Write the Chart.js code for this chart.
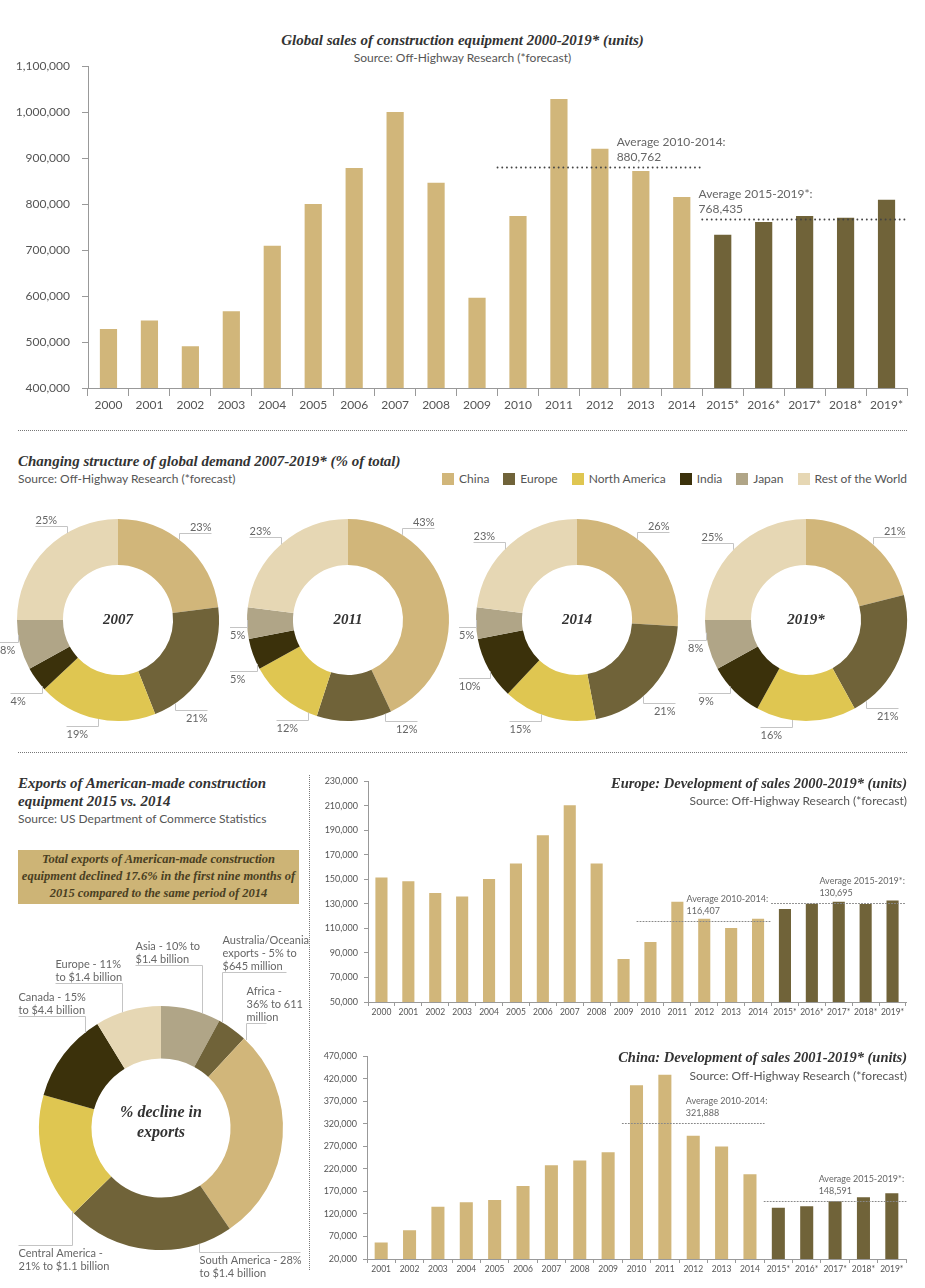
<!DOCTYPE html>
<html lang="en">
<head>
<meta charset="UTF-8">
<title>Construction equipment sales</title>
<script src="https://cdn.jsdelivr.net/npm/chart.js"></script>
<style>
  body { margin:0; width:925px; height:1288px; position:relative; background:#fff; font-family:Lato, sans-serif; color:#555; overflow:hidden; }
  .t { position:absolute; white-space:nowrap; }
  .title { font-family:"Liberation Serif", serif; font-style:italic; font-weight:bold; font-size:15px; line-height:18px; color:#333; }
  .src { font-size:12px; line-height:18px; color:#555; }
  canvas { position:absolute; }
  .hdots { position:absolute; height:0; border-top:1px dotted #777; }
  .vdots { position:absolute; width:0; border-left:1px dotted #777; }
  .legend { position:absolute; right:18px; top:471px; display:flex; gap:14px; font-size:12px; line-height:16px; color:#555; }
  .legend span { display:flex; align-items:center; }
  .legend i { display:inline-block; width:12px; height:12px; margin-right:5px; }
  .box { position:absolute; left:18px; top:850px; width:281px; height:54px; background:#CDB476; box-sizing:border-box; padding-top:1px;
         text-align:center; font-family:"Liberation Serif", serif; font-style:italic; font-weight:bold; font-size:12.5px; line-height:17px; color:#4a3f22; }
</style>
</head>
<body>

<div class="t title" style="left:0;width:925px;text-align:center;top:31px">Global sales of construction equipment 2000-2019* (units)</div>
<div class="t src" style="left:0;width:925px;text-align:center;top:49px">Source: Off-Highway Research (*forecast)</div>
<canvas id="world" width="925" height="420" style="left:0;top:0"></canvas>

<div class="hdots" style="left:18px;width:889px;top:430px"></div>

<div class="t title" style="left:18px;top:452px">Changing structure of global demand 2007-2019* (% of total)</div>
<div class="t src" style="left:18px;top:470px">Source: Off-Highway Research (*forecast)</div>
<div class="legend" id="legend"></div>

<canvas id="d0" width="236" height="250" style="left:0;top:502px"></canvas>
<canvas id="d1" width="236" height="250" style="left:230px;top:502px"></canvas>
<canvas id="d2" width="236" height="250" style="left:459px;top:502px"></canvas>
<canvas id="d3" width="236" height="250" style="left:688px;top:502px"></canvas>

<div class="hdots" style="left:18px;width:889px;top:752px"></div>
<div class="vdots" style="left:309px;top:775px;height:495px"></div>

<div class="t title" style="left:18px;top:774px">Exports of American-made construction<br>equipment 2015 vs. 2014</div>
<div class="t src" style="left:18px;top:810px">Source: US Department of Commerce Statistics</div>
<div class="box">Total exports of American-made construction<br>equipment declined 17.6% in the first nine months of<br>2015 compared to the same period of 2014</div>
<canvas id="exports" width="310" height="350" style="left:0;top:930px"></canvas>

<canvas id="europe" width="615" height="250" style="left:310px;top:770px"></canvas>
<div class="t title" style="right:18px;top:774px;font-size:14.5px">Europe: Development of sales 2000-2019* (units)</div>
<div class="t src" style="right:18px;top:792px">Source: Off-Highway Research (*forecast)</div>

<canvas id="china" width="615" height="235" style="left:310px;top:1045px"></canvas>
<div class="t title" style="right:18px;top:1048px;font-size:14.5px">China: Development of sales 2001-2019* (units)</div>
<div class="t src" style="right:18px;top:1067px">Source: Off-Highway Research (*forecast)</div>

<script>
// global sales, units
const worldYears = ['2000', '2001', '2002', '2003', '2004', '2005', '2006', '2007', '2008', '2009',
                    '2010', '2011', '2012', '2013', '2014', '2015*', '2016*', '2017*', '2018*', '2019*'];
const worldSales = [528000, 547000, 491000, 567000, 709000, 800000, 878000, 1000000, 846000, 596000,
                    774000, 1028000, 920000, 872000, 815000, 733000, 761000, 774000, 770000, 809000];
const worldAverages = [880762, 768435];

// europe sales, units
const europeYears = worldYears;
const europeSales = [151500, 148500, 139000, 136000, 150400, 163000, 186000, 210500, 163000, 85000,
                     99000, 131800, 118000, 110400, 118000, 125800, 130100, 131800, 130000, 132800];
const europeAverages = [116407, 130695];

// china sales, units
const chinaYears = worldYears.slice(1);
const chinaSales = [56600, 83700, 136000, 146000, 151000, 182000, 228000, 239000, 257000,
                    406000, 429000, 294000, 270000, 208000, 134000, 137000, 148000, 157000, 166000];
const chinaAverages = [321888, 148591];

const avgFrom = ['2010', '2015*'];
const avgTo = ['2014', '2019*'];
const avgTitles = ['Average 2010-2014:', 'Average 2015-2019*:'];

// demand structure, % of total
const regions = ['China', 'Europe', 'North America', 'India', 'Japan', 'Rest of the World'];
const demandYears = ['2007', '2011', '2014', '2019*'];
const share2007 = [23, 21, 19, 4, 8, 25];
const share2011 = [43, 12, 12, 5, 5, 23];
const share2014 = [26, 21, 15, 10, 5, 23];
const share2019 = [21, 21, 16, 9, 8, 25];

// us exports, % decline
const exportRegions = ['Asia', 'Australia/Oceania', 'Africa', 'South America', 'Central America', 'Canada', 'Europe'];
const exportDecline = [10, 5, 36, 28, 21, 15, 11];
const exportText = [
  ['Asia - 10% to', '$1.4 billion'],
  ['Australia/Oceania', 'exports - 5% to', '$645 million'],
  ['Africa -', '36% to 611', 'million'],
  ['South America - 28%', 'to $1.4 billion'],
  ['Central America -', '21% to $1.1 billion'],
  ['Canada - 15%', 'to $4.4 billion'],
  ['Europe - 11%', 'to $1.4 billion']
];

const TAN = '#D1B67A', OLIVE = '#706339';
const regionColors = ['#D1B67A', '#706339', '#DFC651', '#3B310B', '#B0A587', '#E6D7B4'];
const exportColors = ['#B0A587', '#706339', '#D1B67A', '#706339', '#DFC651', '#3B310B', '#E6D7B4'];

// legend
document.getElementById('legend').innerHTML = regions.map((r, i) =>
  `<span><i style="background:${regionColors[i]}"></i>${r}</span>`).join('');

const fmt = v => v.toLocaleString('en-US');

function avgPlugin(items, st) {
  return {
    id: 'averages',
    afterDatasetsDraw(chart) {
      const { ctx, scales: { x, y } } = chart;
      const labels = chart.data.labels;
      const half = (x.getPixelForValue(1) - x.getPixelForValue(0)) / 2;
      ctx.save();
      items.forEach(it => {
        const x0 = x.getPixelForValue(labels.indexOf(it.from)) - half;
        const x1 = x.getPixelForValue(labels.indexOf(it.to)) + half;
        const yy = Math.round(y.getPixelForValue(it.value)) + 0.5;
        ctx.strokeStyle = st.color;
        ctx.lineWidth = st.lw;
        ctx.lineCap = 'round';
        ctx.setLineDash(st.dash);
        ctx.beginPath(); ctx.moveTo(x0, yy); ctx.lineTo(x1, yy); ctx.stroke();
        ctx.setLineDash([]);
        ctx.font = st.size + 'px Lato';
        ctx.fillStyle = '#666';
        ctx.textAlign = 'left';
        const tx = x.getPixelForValue(it.textAt);
        it.text.forEach((t, j) => ctx.fillText(t, tx, yy - st.gap - (it.text.length - 1 - j) * st.lh));
      });
      ctx.restore();
    }
  };
}

function barChart(id, labels, values, o) {
  new Chart(document.getElementById(id), {
    type: 'bar',
    data: {
      labels: labels,
      datasets: [{
        data: values,
        backgroundColor: labels.map(l => l.endsWith('*') ? OLIVE : TAN),
        barPercentage: o.bar,
        categoryPercentage: 1
      }]
    },
    options: {
      responsive: false,
      animation: false,
      layout: { padding: { top: o.top, right: o.right, left: 0, bottom: 0 } },
      plugins: { legend: { display: false }, tooltip: { enabled: false } },
      scales: {
        x: {
          grid: { drawOnChartArea: false, tickLength: o.xTick, color: '#999', offset: true },
          border: { color: '#999' },
          ticks: { font: { family: 'Lato', size: o.xFont }, color: '#555', maxRotation: 0, autoSkip: false, padding: o.xPad },
          afterFit: s => { s.height = o.xh; }
        },
        y: {
          min: o.min, max: o.max,
          grid: { drawOnChartArea: false, tickLength: o.yTick, color: '#999' },
          border: { color: '#999' },
          ticks: { stepSize: o.step, font: { family: 'Lato', size: o.yFont }, color: '#555', padding: o.yPad, callback: v => fmt(v) },
          afterFit: s => { s.width = o.yw; }
        }
      }
    },
    plugins: [avgPlugin(o.avg, o.avgStyle)]
  });
}

function avgItems(values, textAt) {
  return values.map((v, i) => ({ from: avgFrom[i], to: avgTo[i], value: v, textAt: textAt[i], text: [avgTitles[i], fmt(v)] }));
}

barChart('world', worldYears, worldSales, {
  bar: 0.42, top: 66, right: 18, xh: 32, yw: 88, min: 400000, max: 1100000, step: 100000,
  xFont: 12, yFont: 12, xTick: 8, yTick: 6, xPad: 2, yPad: 12,
  avg: avgItems(worldAverages, [12.41, 14.41]),
  avgStyle: { color: '#444', lw: 1.8, dash: [0.1, 4.6], size: 12, gap: 7, lh: 15 }
});

barChart('europe', europeYears, europeSales, {
  bar: 0.45, top: 11, right: 19, xh: 18, yw: 58, min: 50000, max: 230000, step: 20000,
  xFont: 8.5, yFont: 9, xTick: 4, yTick: 4, xPad: 1, yPad: 6,
  avg: avgItems(europeAverages, [11.34, 16.28]),
  avgStyle: { color: '#888', lw: 1, dash: [1, 2], size: 9, gap: 8, lh: 12 }
});

barChart('china', chinaYears, chinaSales, {
  bar: 0.46, top: 10, right: 19, xh: 21, yw: 57, min: 20000, max: 470000, step: 50000,
  xFont: 8.5, yFont: 9, xTick: 4, yTick: 4, xPad: 1, yPad: 6,
  avg: avgItems(chinaAverages, [10.74, 15.42]),
  avgStyle: { color: '#888', lw: 1, dash: [1, 2], size: 9, gap: 8, lh: 12 }
});

function ringLabelPlugin(cfg) {
  return {
    id: 'ringLabels',
    afterDatasetsDraw(chart) {
      const ctx = chart.ctx;
      const arcs = chart.getDatasetMeta(0).data;
      ctx.save();
      ctx.font = cfg.size + 'px Lato';
      ctx.fillStyle = '#666';
      ctx.strokeStyle = '#c4c4c4';
      ctx.lineWidth = 1;
      arcs.forEach((arc, i) => {
        const o = (cfg.place && cfg.place[i]) || {};
        const lines = cfg.text[i];
        const at = o.at ?? (cfg.at ? cfg.at[i] : 0.5);
        const a = arc.startAngle + (arc.endAngle - arc.startAngle) * at;
        const px = Math.round(arc.x + Math.cos(a) * arc.outerRadius) + 0.5;
        const py = arc.y + Math.sin(a) * arc.outerRadius;
        const down = o.down ?? (Math.sin(a) > 0);
        const dir = o.dir ?? (Math.cos(a) >= 0 ? 1 : -1);
        const ey = Math.round(py + (down ? 1 : -1) * (o.lift ?? cfg.lift)) + 0.5;
        const tw = Math.max(...lines.map(t => ctx.measureText(t).width));
        let ex = px + dir * (o.len ?? Math.max(cfg.len, tw + 3));
        ex = Math.min(Math.max(ex, 0), chart.width);
        ctx.beginPath(); ctx.moveTo(px, py); ctx.lineTo(px, ey); ctx.lineTo(ex, ey); ctx.stroke();
        let tx;
        if (cfg.leftText) { tx = Math.min(px, ex); ctx.textAlign = 'left'; }
        else { tx = ex; ctx.textAlign = dir > 0 ? 'right' : 'left'; }
        lines.forEach((t, j) => {
          const ty = down ? ey + 3 + cfg.size * 0.8 + j * cfg.lh
                          : ey - 3 - (lines.length - 1 - j) * cfg.lh;
          ctx.fillText(t, tx, ty);
        });
      });
      ctx.restore();
    }
  };
}

function centerTextPlugin(lines, size, dy) {
  return {
    id: 'centerText',
    afterDatasetsDraw(chart) {
      const arc = chart.getDatasetMeta(0).data[0];
      const ctx = chart.ctx;
      ctx.save();
      ctx.font = `italic bold ${size}px "Liberation Serif"`;
      ctx.fillStyle = '#333';
      ctx.textAlign = 'center';
      ctx.textBaseline = 'middle';
      lines.forEach((t, j) => ctx.fillText(t, arc.x, arc.y + dy + (j - (lines.length - 1) / 2) * size * 1.25));
      ctx.restore();
    }
  };
}

function donut(id, labels, values, colors, o) {
  new Chart(document.getElementById(id), {
    type: 'doughnut',
    data: { labels: labels, datasets: [{ data: values, backgroundColor: colors, borderWidth: 0 }] },
    options: {
      responsive: false,
      animation: false,
      cutout: o.cutout,
      layout: { padding: o.padding },
      plugins: { legend: { display: false }, tooltip: { enabled: false } }
    },
    plugins: [ringLabelPlugin(o.labels), centerTextPlugin(o.center, o.centerSize, o.centerDy || 0)]
  });
}

// where along each slice the leader line leaves the ring (0 = slice start, 1 = slice end)
const leaderAt = [
  [0.45, 0.83, 0.48, 0.15, 0.7, 0.66],
  [0.21, 0.08, 0.13, 0.17, 0.6, 0.5],
  [0.39, 0.6, 0.59, 0.45, 0.6, 0.45],
  [0.55, 0.9, 0.64, 0.62, 0.75, 0.49]
];

[share2007, share2011, share2014, share2019].forEach((s, i) => {
  donut('d' + i, regions, s, regionColors, {
    cutout: '54.5%',
    padding: { left: 17, right: 17, top: 17, bottom: 31 },
    labels: { text: s.map(v => [v + '%']), at: leaderAt[i], size: 11, lh: 13, lift: 7, len: 32 },
    center: [demandYears[i]], centerSize: 15
  });
});

donut('exports', exportRegions, exportDecline, exportColors, {
  cutout: '57%',
  padding: { left: 39, right: 27, top: 76, bottom: 30 },
  labels: {
    text: exportText, size: 11, lh: 13, lift: 8, len: 30, leftText: true,
    place: [
      { at: 0.69, lift: 48, dir: -1, len: 67 },
      { at: 0.1, lift: 50, dir: 1, len: 64 },
      { at: 0.01, lift: 17, dir: 1, len: 20 },
      { at: 0.2, lift: 8, down: true, dir: 1, len: 101 },
      { at: 0.02, lift: 34, down: true, dir: -1, len: 54 },
      { at: 0.83, lift: 17, dir: -1, len: 67 },
      { at: 0.41, lift: 29, dir: -1, len: 67 }
    ]
  },
  center: ['% decline in', 'exports'], centerSize: 16, centerDy: -5
});
</script>
</body>
</html>
